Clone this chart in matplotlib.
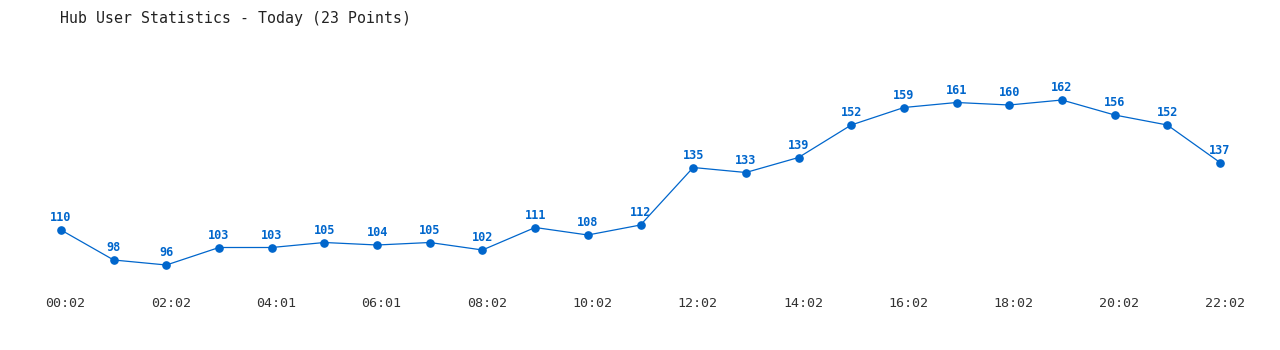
import matplotlib
matplotlib.use("Agg")
import matplotlib.pyplot as plt
import matplotlib.transforms as mtransforms

values = [110, 98, 96, 103, 103, 105, 104, 105, 102, 111, 108, 112,
          135, 133, 139, 152, 159, 161, 160, 162, 156, 152, 137]
tick_labels = ["00:02", "02:02", "04:01", "06:01", "08:02", "10:02",
               "12:02", "14:02", "16:02", "18:02", "20:02", "22:02"]
title = "Hub User Statistics - Today (23 Points)"

blue = "#0066cc"
W, H = 1280, 350
fig = plt.figure(figsize=(W / 100, H / 100), dpi=100)
y_lo, y_hi = 90, 180
top_px = 230 - (y_hi - 110) * 2.5
bot_px = 230 - (y_lo - 110) * 2.5
ax = fig.add_axes([61 / W, 1 - bot_px / H, (1220 - 61) / W, (bot_px - top_px) / H])
xs = list(range(len(values)))
ax.plot(xs, values, color=blue, lw=0.9, marker="o", ms=5.2, clip_on=False)
for x, v in zip(xs, values):
    ax.annotate(str(v), (x, v), xytext=(0, 4.3), textcoords="offset points",
                ha="center", va="bottom", color=blue, fontsize=8.6,
                fontweight="bold", family="DejaVu Sans Mono")
ax.set_xlim(0, len(values) - 1)
ax.set_ylim(y_lo, y_hi)
ax.set_xticks(xs[::2])
ax.set_xticklabels(tick_labels, family="DejaVu Sans Mono", fontsize=9.6, color="#333333")
ax.tick_params(axis="x", length=0, pad=12.5)
shift = mtransforms.ScaledTranslation(4.5 / 100, 0, fig.dpi_scale_trans)
for lbl in ax.get_xticklabels():
    lbl.set_transform(lbl.get_transform() + shift)
ax.set_yticks([])
for s in ax.spines.values():
    s.set_visible(False)
fig.text(60 / W, 1 - 18 / H, title, ha="left", va="center",
         family="DejaVu Sans Mono", fontsize=10.75, color="#222222")
fig.savefig("out.png", dpi=100)
